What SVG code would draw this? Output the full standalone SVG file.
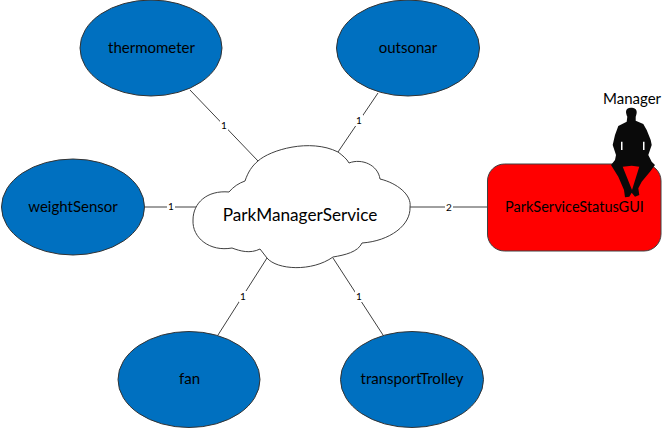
<svg xmlns="http://www.w3.org/2000/svg" width="662" height="428" viewBox="0 0 662 428">
<style>
text{font-family:"Lato","Open Sans",sans-serif;text-anchor:middle;fill:#000}
.n{font-size:15px}
.g{font-size:14.5px}
.l{font-size:10px}
.e{fill:#0070c0;stroke:#333;stroke-width:1}
.c{stroke:#404040;stroke-width:1;fill:none}
.lb{fill:#fff}
</style>
<rect width="662" height="428" fill="#fff"/>
<g id="connectors">
<path class="c" d="M190 90L258 161"/>
<path class="c" d="M378 93L338 152"/>
<path class="c" d="M145 207H197"/>
<path class="c" d="M410 207H488"/>
<path class="c" d="M267 258L218 335"/>
<path class="c" d="M333 258L383 335"/>
<rect class="lb" x="220" y="120" width="8" height="11"/><text class="l" x="224" y="129">1</text>
<rect class="lb" x="355" y="115" width="8" height="11"/><text class="l" x="359" y="124">1</text>
<rect class="lb" x="167" y="201" width="8" height="11"/><text class="l" x="171" y="210">1</text>
<rect class="lb" x="445" y="201" width="8" height="11"/><text class="l" x="449" y="211">2</text>
<rect class="lb" x="239" y="291" width="8" height="11"/><text class="l" x="243" y="300">1</text>
<rect class="lb" x="355" y="291" width="8" height="11"/><text class="l" x="359" y="300">1</text>
</g>
<g id="thermometer"><ellipse class="e" cx="151" cy="48" rx="71" ry="48"/><text class="n" x="151.500" y="53">thermometer</text></g>
<g id="outsonar"><ellipse class="e" cx="408" cy="48" rx="71.500" ry="48"/><text class="n" x="408" y="53">outsonar</text></g>
<g id="weightSensor"><ellipse class="e" cx="73" cy="207" rx="71.500" ry="48"/><text class="n" x="73" y="212">weightSensor</text></g>
<g id="fan"><ellipse class="e" cx="189" cy="379.500" rx="71" ry="48"/><text class="n" x="189.500" y="384">fan</text></g>
<g id="transportTrolley"><ellipse class="e" cx="412" cy="379.500" rx="71.500" ry="48"/><text class="n" x="412" y="384">transportTrolley</text></g>
<g id="ParkManagerService">
<path fill="#fff" stroke="#404040" stroke-width="1" d="M258 161C270 150 310 138 338 152C342 155 347 159 349 163C362 158 378 165 380 179C397 183 412 195 410 207C411 225 390 241 362 243C358 252 345 255 333 257C312 272 277 270 267 258L260 249C250 254 240 251 232 248C210 252 192 238 193 220C193 203 207 190 229 192C233 187 239 183 245 181C248 172 252 166 258 161Z"/>
<text x="300" y="221" style="font-size:17.2px">ParkManagerService</text>
</g>
<g id="ParkServiceStatusGUI">
<rect x="487.500" y="164" width="173.500" height="87" rx="17" fill="#f00" stroke="#404040"/>
<text class="g" x="574.500" y="212">ParkServiceStatusGUI</text>
</g>
<g id="Manager">
<text class="n" x="632" y="104">Manager</text>
<path fill="#0a0a0a" d="M631 107.700C634 107.700 636.700 109 636.700 112C636.700 114 636 116 635.700 116.700L635.700 120.700L643.300 124L646.700 130L650.700 140L651.700 145L650 150L648.300 155L651.700 161.700L655 165L650 171.700L641.700 181.700L638.300 188.300L639.300 195L635 196.700L631.700 192.700L629.300 196.700L625 197.300L624 190L618.300 176.700L611 165L615 160L616 155L612.700 145L615 135L618.300 126L626.700 121.700L627.300 116.700C626.500 115 626 113 626 111.700C626 109 628 107.700 631 107.700Z"/>
<path fill="#f00" d="M622.700 166.700L632 190L639.300 166.700L631.700 165.700Z"/>
<path fill="#fff" d="M621 141.700H622.500V150H621ZM643 141.700H644.500V150H643Z"/>
</g>
</svg>
